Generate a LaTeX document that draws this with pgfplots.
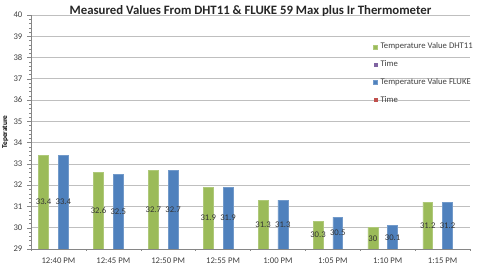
\documentclass[border=0pt]{standalone}
\usepackage{pgfplots}
\pgfplotsset{compat=1.18}
\usepackage{pgfplotstable}
\usepackage{fontspec}
\setmainfont{Carlito}
\definecolor{xgreen}{HTML}{9BBB59}
\definecolor{xblue}{HTML}{4F81BD}
\definecolor{xpurple}{HTML}{8064A2}
\definecolor{xred}{HTML}{C0504D}
\definecolor{xgrid}{HTML}{BFBFBF}
\pgfplotstableread{
x v
0 33.4
1 32.6
2 32.7
3 31.9
4 31.3
5 30.3
6 30.0
7 31.2
}\dht
\pgfplotstableread{
x v
0 33.4
1 32.5
2 32.7
3 31.9
4 31.3
5 30.5
6 30.1
7 31.2
}\fluke
\begin{document}
\begin{tikzpicture}
\begin{axis}[
  scale only axis, width=329.25pt, height=175.5pt,
  xmin=-0.5, xmax=7.5, ymin=29, ymax=40,
  xtick={0,...,7},
  xticklabels={12:40 PM,12:45 PM,12:50 PM,12:55 PM,1:00 PM,1:05 PM,1:10 PM,1:15 PM},
  major x tick style={draw=none},
  minor xtick={-0.5,0.5,...,7.5},
  minor x tick style={xgrid!70!black},
  ytick={29,...,40},
  minor y tick num=4,
  tick align=outside,
  major tick length=3pt, minor tick length=1.5pt,
  y tick style={xgrid!70!black},
  ymajorgrids, grid style={xgrid, line width=0.6pt},
  axis x line*=bottom, axis y line*=left,
  axis line style={xgrid!70!black, -},
  tick label style={font=\fontsize{6.5}{7}\selectfont, text=black!75},
  /pgf/number format/assume math mode=true,
  ylabel={Teperature},
  ylabel shift=-3pt,
  ylabel style={font=\bfseries\fontsize{5.5}{6}\selectfont},
  every axis title shift=0pt,
  title={Measured Values From DHT11 \& FLUKE 59 Max plus Ir Thermometer},
  title style={font=\bfseries\fontsize{9.6}{10}\selectfont, text=black!85, at={(0.5,1)}, anchor=center, yshift=3pt},
  legend style={at={(0.77,0.905)}, anchor=north west, draw=none, fill=none,
    font=\fontsize{6.5}{7}\selectfont, text=black!75, row sep=3.4pt},
  legend cell align=left,
  legend image code/.code={\fill[#1] (0pt,-1.5pt) rectangle (3pt,1.5pt);},
  nodes near coords style={font=\fontsize{6.5}{7}\selectfont, text=black!80, anchor=center},
]
\addplot[ybar, bar width=0.18, bar shift=-0.27, fill=xgreen, draw=xgreen!80!white] table[x=x,y=v] {\dht};
\addlegendentry{Temperature Value DHT11}
\addlegendimage{fill=xpurple, draw=none}
\addlegendentry{Time}
\addplot[ybar, bar width=0.18, bar shift=0.09, fill=xblue, draw=xblue!80!white] table[x=x,y=v] {\fluke};
\addlegendentry{Temperature Value FLUKE}
\addlegendimage{fill=xred, draw=none}
\addlegendentry{Time}
\addplot[forget plot, draw=none, mark=none, nodes near coords, point meta=explicit,
  nodes near coords={\pgfmathprintnumber[assume math mode=true]{\pgfplotspointmeta}}]
  table[x expr=\thisrow{x}-0.27, y expr=(\thisrow{v}+29)/2, meta=v] {\dht};
\addplot[forget plot, draw=none, mark=none, nodes near coords, point meta=explicit,
  nodes near coords={\pgfmathprintnumber[assume math mode=true]{\pgfplotspointmeta}}]
  table[x expr=\thisrow{x}+0.09, y expr=(\thisrow{v}+29)/2, meta=v] {\fluke};
\coordinate (AA) at (rel axis cs:0,0);
\coordinate (BB) at (rel axis cs:1,1);
\end{axis}
\pgfresetboundingbox
\useasboundingbox ([shift={(-23.25pt,-18pt)}]AA) rectangle ([shift={(7.5pt,11.25pt)}]BB);
\end{tikzpicture}
\end{document}
